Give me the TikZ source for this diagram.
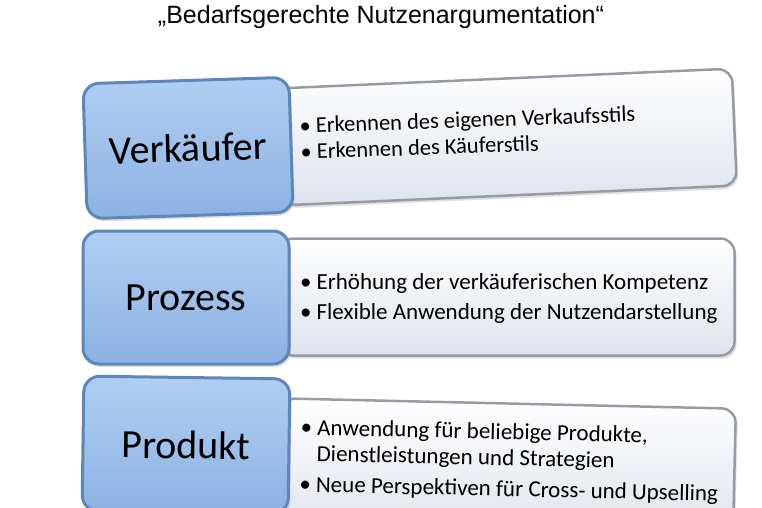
\documentclass[tikz,border=0pt]{standalone}
\usepackage{fontspec}
\setmainfont{Carlito}
\newfontfamily\titlefont{Liberation Sans}
\usepackage{xcolor}
\usetikzlibrary{positioning,calc,shadows}

\definecolor{boxblue}{RGB}{176,206,242}
\definecolor{boxbluedark}{RGB}{140,178,226}
\definecolor{rimblue}{RGB}{92,134,188}
\definecolor{notegray}{RGB}{222,227,237}
\definecolor{rimgray}{RGB}{150,155,166}

\begin{document}
\begin{tikzpicture}[x=1pt,y=1pt,
    bluebox/.style={draw=rimblue, line width=3pt, rounded corners=16pt,
        top color=boxblue, bottom color=boxbluedark,
        minimum width=206pt, inner sep=0pt,
        drop shadow={shadow xshift=2pt, shadow yshift=-3pt, opacity=0.25},
        font=\fontsize{40}{48}\selectfont},
    notebox/.style={draw=rimgray, line width=2.5pt, rounded corners=14pt,
        top color=white, bottom color=notegray,
        minimum width=455pt, minimum height=117pt, inner sep=0pt,
        drop shadow={shadow xshift=2pt, shadow yshift=-3pt, opacity=0.25}},
    points/.style={anchor=west, inner sep=0pt, font=\fontsize{23}{26}\selectfont}]
    \useasboundingbox (0,0) rectangle (762,-508);

    % title
    \node[font=\titlefont\fontsize{25}{29}\selectfont] (title) at (381,-17) {„Bedarfsgerechte Nutzenargumentation“};

    % note boxes first, the blue boxes sit on top of them
    \node[notebox, rotate=2.5] (note1) at (507,-137) {};
    \node[notebox] (note2) at (507,-297) {};
    \node[notebox, rotate=-1.3, minimum height=125pt] (note3) at (507,-466) {};

    % Row 1
    \node[bluebox, minimum height=135pt, rotate=1.8] (seller) at (188,-148) {Verkäufer};
    \node[points, rotate=2, font=\fontsize{22.5}{26}\selectfont] (pts1) at (300,-141) {%
        \begin{tabular}{@{}l@{\hspace{5pt}}l@{}}
        \textbullet & Erkennen des eigenen Verkaufsstils\\
        \textbullet & Erkennen des Käuferstils
        \end{tabular}};

    % Row 2
    \node[bluebox, minimum height=133pt] (process) at (186,-297.5) {Prozess};
    \node[points] (pts2) at (300,-299) {%
        \begin{tabular}{@{}l@{\hspace{5pt}}l@{}}
        \textbullet & Erhöhung der verkäuferischen Kompetenz\\[4pt]
        \textbullet & Flexible Anwendung der Nutzendarstellung
        \end{tabular}};

    % Row 3
    \node[bluebox, minimum height=135pt, rotate=-0.8] (product) at (186,-445) {Produkt};
    \node[points, rotate=-1.3] (pts3) at (300,-458) {%
        \begin{tabular}{@{}l@{\hspace{5pt}}l@{}}
        \textbullet & Anwendung für beliebige Produkte,\\
                    & Dienstleistungen und Strategien\\[5pt]
        \textbullet & Neue Perspektiven für Cross- und Upselling
        \end{tabular}};
\end{tikzpicture}
\end{document}
